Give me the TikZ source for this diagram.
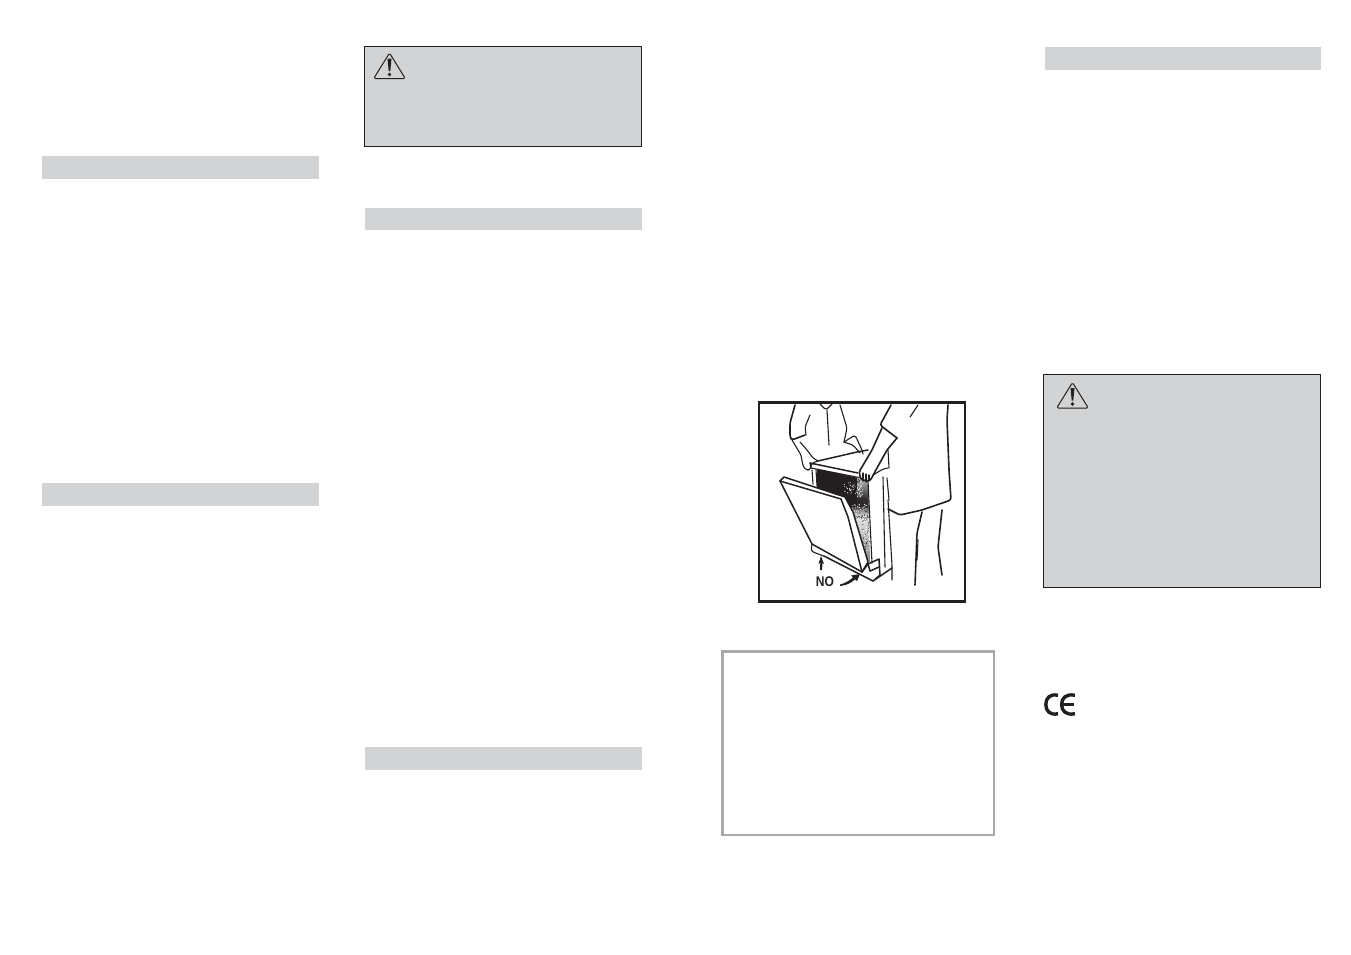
\documentclass[tikz,border=0pt]{standalone}
\usepackage{graphicx}
\usepackage{fontspec}
\setmainfont{Liberation Sans}
\definecolor{panel}{HTML}{D1D3D4}
\definecolor{edge}{HTML}{A7A9AC}
\definecolor{ink}{HTML}{231F20}
\newcommand{\speck}[6]{% cx cy w h n colour
  \foreach \i in {1,...,#5}{
    \pgfmathsetmacro{\px}{#1+rand*#3}
    \pgfmathsetmacro{\py}{#2+rand*#4}
    \fill[#6] (\px,\py) circle (0.5);
  }}
\tikzset{
  band/.style={fill=panel,draw=none},
  warnbox/.style={fill=panel,draw=ink,line width=0.9pt},
  ln/.style={draw=ink,line width=1.1pt,line cap=round,line join=round,rounded corners=2.5pt},
  lnb/.style={draw=ink,line width=1.6pt,line cap=round,line join=round,rounded corners=2.5pt},
  lnc/.style={draw=ink,line width=1.5pt,line cap=round,line join=round},
  warntri/.pic={
    \draw[draw=ink,line width=1pt,line join=round,rounded corners=1.5pt] (0,-25.5)--(15.8,0)--(-15.8,0)--cycle;
    \fill[ink] (-2,-20)--(2,-20)--(0.8,-7.5)--(-0.8,-7.5)--cycle;
    \fill[ink] (0,-4) circle (1.9pt);
  }
}
\begin{document}
\begin{tikzpicture}[x=1pt,y=-1pt]
\useasboundingbox (0,0) rectangle (1351,954);
\fill[white] (0,0) rectangle (1351,954);
% bands
\fill[band] (42,156) rectangle (319,179);
\fill[band] (42,483) rectangle (319,506);
\fill[band] (365,208) rectangle (642,230);
\fill[band] (365,747) rectangle (642,770);
\fill[band] (1045,47) rectangle (1321,70);
% warning boxes
\draw[warnbox] (364.5,46.5) rectangle (641.5,146.5);
\draw[warnbox] (1043.5,374.5) rectangle (1320.5,587.5);
\pic at (389.5,78.5) {warntri};
\pic at (1072.5,408) {warntri};
% note box
\draw[draw=edge,line width=2.4pt] (722.5,651.5) rectangle (994,835);
% CE mark
\draw[ink,line width=3.4pt] (1058,695.3) .. controls (1050,693.5) and (1045.8,698) .. (1045.8,704.5) .. controls (1045.8,711) and (1050,715.5) .. (1058,713.7);
\draw[ink,line width=3.4pt] (1075,695.3) .. controls (1066,693.5) and (1061.6,698) .. (1061.6,704.5) .. controls (1061.6,711) and (1066,715.5) .. (1075,713.7);
\draw[ink,line width=2.8pt] (1062,704.5) -- (1073.5,704.5);
% illustration
\draw[ink,line width=2.6pt] (759,402.5) rectangle (965,601.5);
% interior of the cabinet
\begin{scope}
  \clip (817,469) -- (868,480) -- (870,562) -- (866,562) -- (840,497) -- (817,490) -- cycle;
  \fill[ink] (817,469) -- (868,480) -- (869,509) -- (850,509) -- (840,497) -- (817,490) -- cycle;
  \shade[top color=ink!30,bottom color=ink!95] (857,478) rectangle (871,499);
  \fill[ink!95] (857,499) rectangle (871,506);
  \shade[top color=ink!95,bottom color=ink!10] (847,506) rectangle (871,516);
  \shade[top color=ink!10,bottom color=ink!55] (847,516) rectangle (871,562);
  \pgfmathsetseed{77}
  \speck{852}{488}{8}{6}{45}{white}
  \speck{857}{488}{2.5}{9}{30}{ink}
  \speck{860}{490}{3}{9}{30}{white}
  \speck{857}{508}{10}{4}{40}{white}
  \speck{859}{515}{10}{4}{40}{ink}
  \speck{866}{535}{4}{16}{35}{ink}
  \speck{866}{535}{4}{16}{35}{white}
\end{scope}
% door
\fill[white] (780,481) -- (784,477) -- (845,497) -- (853,512) -- (868,562) -- (862,572) -- (812,544) -- cycle;
\draw[lnc] (780,481) -- (784,477) -- (845,497) -- (853,512) -- (868,562) -- (862,572);
\draw[lnc] (780,481) -- (841,499) -- (848,517) -- (862,572);
\draw[lnc] (780,481) -- (812,544) -- (862,572);
% cabinet
\draw[lnc] (810,463) -- (858,473);
\draw[ln] (811,468) -- (859,477.5);
\draw[ln] (810,463) -- (811,468);
\draw[ln] (812,470) -- (813,484);
\draw[ln] (816,470) -- (817,486);
\draw[lnc] (818,461) -- (857,452) -- (868,450);
\draw[ln] (868,481) -- (872,563);
\draw[ln] (883,477) -- (885,567);
\draw[ln] (888,500) -- (892,565) -- (892,580);
\draw[ln] (887,478) -- (889,500);
\draw[ln] (873,475) -- (883,469) -- (888,468);
\draw[ln] (888,450) -- (889,468);
% base
\draw[lnc] (868,564) -- (879,559) -- (880,575) -- (873,581) -- (892,568);
\draw[lnc] (868,564) -- (870,571) -- (879,567);
\draw[lnc] (862,572) -- (868,564);
\draw[lnc] (824,556) -- (873,581);
\draw[ln] (812,544) -- (811,551) -- (818,554) -- (824,556);
% left person
\draw[lnb] (795,405) -- (790,423) -- (790,437) -- (792,440) -- (805,435);
\draw[ln] (792,440) -- (801,455) -- (803,466) -- (806,470) -- (810,470) -- (812,463) -- (818,461);
\draw[ln] (800,442) -- (807,450) -- (813,458) -- (818,461);
\draw[ln] (810,415) -- (805,427) -- (806,435);
\draw[ln] (827,410) -- (829,445);
\draw[ln] (820,404) -- (826,410) -- (832,404);
\draw[ln] (840,405) -- (847,428) -- (844,442);
\draw[ln] (844,442) -- (855,435) -- (862,450) -- (863,454);
\draw[ln] (844,442) -- (853,445) -- (860,453);
% right person
\draw[lnb] (891,405) -- (880,425) -- (897,438);
\draw[lnb] (882,428) -- (872,450) -- (859,472) -- (861,480) -- (870,481) -- (877,468) -- (887,450) -- (897,438);
\draw[ln] (863,473) -- (863,481);
\draw[ln] (866,474) -- (866,482);
\draw[ln] (869,475) -- (869,481);
\draw[ln] (918,405) -- (910,417);
\draw[lnb] (948,405) -- (947,420) -- (949,470) -- (951,500) -- (922,510) -- (900,515) -- (888,509);
% legs
\draw[lnb] (922,512) -- (917,533) -- (915,585);
\draw[ln] (918,540) -- (917,560);
\draw[lnb] (942,510) -- (938,547) -- (942,575);
% arrows
\fill[ink] (821,556) -- (818.5,564) -- (820.3,563) -- (820,570) -- (822,570) -- (822.5,563) -- (824,564) -- cycle;
\fill[ink] (840,584.5) .. controls (846,583) and (850,580) .. (853,577.5) -- (851,575.5) -- (860,574) -- (857,581) -- (855,579.5) .. controls (851,583) and (846,585.5) .. (840,586) -- cycle;
\node[inner sep=0pt,text=ink,font=\bfseries\fontsize{14}{14}\selectfont] (nolabel) at (825,582) {\scalebox{.86}[1]{NO}};
\end{tikzpicture}
\end{document}
